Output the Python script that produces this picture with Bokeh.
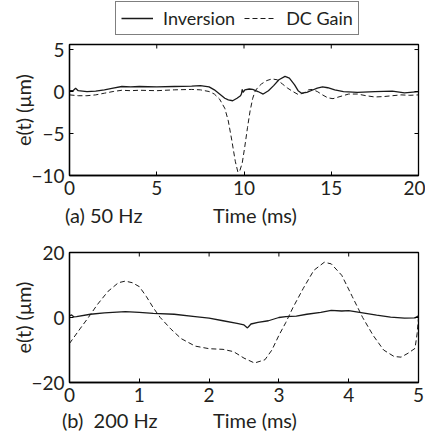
from bokeh.plotting import figure
from bokeh.layouts import column
from bokeh.models import Legend, LegendItem, FixedTicker, Div, Range1d
from bokeh.embed import file_html
from bokeh.resources import INLINE
import math

# ---------------- data ----------------
# (a) 50 Hz
t_a_inv = [0, 0.2, 0.35, 0.5, 1.0, 1.5, 2.0, 2.5, 3.0, 3.5, 4.0, 5.0, 6.0, 7.0, 7.5, 8.0,
           8.3, 8.6, 8.9, 9.1, 9.35, 9.6, 9.8, 9.85, 9.9, 9.95, 10.05, 10.3, 10.5, 10.8,
           11.1, 11.4, 11.7, 12.0, 12.35, 12.6, 12.9, 13.1, 13.3, 13.6, 13.9, 14.2, 14.5,
           14.8, 15.2, 15.7, 16.5, 17.5, 18.5, 19.2, 20.0]
inv_a = [0.1, 0.1, 0.4, 0.1, 0.0, 0.05, 0.2, 0.4, 0.6, 0.55, 0.6, 0.55, 0.6, 0.65, 0.7, 0.55,
         0.2, -0.3, -0.8, -1.0, -1.1, -0.8, -0.5, -0.3, 0.25, -0.1, 0.2, 0.3, 0.25, 0.0,
         -0.3, 0.1, 0.7, 1.4, 1.8, 1.6, 0.8, 0.1, -0.2, -0.1, 0.15, 0.4, 0.55,
         0.45, 0.2, 0.0, -0.1, 0.0, 0.05, -0.15, 0.0]
t_a_dc = [0, 0.5, 1.0, 1.5, 2.0, 2.5, 3.0, 3.5, 4.0, 5.0, 6.0, 7.0, 7.5, 8.0, 8.3, 8.6,
          8.9, 9.1, 9.3, 9.5, 9.65, 9.75, 9.9, 10.05, 10.2, 10.35, 10.5, 10.65, 10.8, 11.0,
          11.3, 11.6, 11.9, 12.2, 12.5, 12.8, 13.1, 13.4, 13.7, 13.9, 14.2, 14.5, 14.8,
          15.1, 15.5, 16.0, 16.5, 17.0, 17.5, 18.0, 18.5, 19.0, 19.5, 20.0]
dc_a = [-0.4, -0.5, -0.5, -0.4, -0.2, 0.0, 0.15, 0.1, 0.15, 0.1, 0.2, 0.25, 0.2, 0.0, -0.3, -0.9,
        -2.0, -3.5, -5.8, -8.3, -9.6, -9.5, -8.5, -6.5, -4.3, -2.3, -0.8, 0.1, 0.5, 0.9,
        1.3, 1.5, 1.4, 0.9, 0.4, 0.0, -0.35, -0.2, 0.2, 0.25, 0.0, -0.4, -0.75,
        -0.85, -0.6, -0.3, -0.3, -0.5, -0.65, -0.6, -0.5, -0.4, -0.45, -0.4]

# (b) 200 Hz
t_b_inv = [0, 0.03, 0.06, 0.1, 0.3, 0.5, 0.8, 1.0, 1.2, 1.5, 1.8, 2.0, 2.2, 2.4, 2.5, 2.55,
           2.6, 2.7, 2.85, 3.0, 3.1, 3.25, 3.4, 3.6, 3.75, 3.9, 4.0, 4.2, 4.4, 4.6, 4.8,
           4.95, 5.0]
inv_b = [0.5, 0.8, 0.2, 0.3, 1.0, 1.4, 1.8, 1.6, 1.3, 1.0, 0.3, -0.2, -1.0, -1.8, -2.3, -3.2,
         -2.0, -1.5, -1.0, 0.0, 0.3, 0.4, 1.0, 1.6, 2.2, 2.0, 2.1, 1.4, 0.7, 0.1, -0.2,
         -0.1, 0.5]
t_b_dc = [0, 0.05, 0.15, 0.27, 0.4, 0.55, 0.7, 0.8, 0.9, 1.0, 1.1, 1.2, 1.3, 1.45, 1.6, 1.8,
          2.0, 2.2, 2.35, 2.5, 2.65, 2.8, 2.9, 3.0, 3.1, 3.2, 3.35, 3.5, 3.65, 3.75, 3.9,
          4.05, 4.2, 4.35, 4.5, 4.65, 4.75, 4.85, 4.95, 4.98, 5.0]
dc_b = [-8.0, -6.5, -3.5, 0.0, 4.0, 8.0, 10.7, 11.2, 10.7, 9.5, 6.5, 3.0, 0.0, -3.5, -6.5, -8.8,
        -9.6, -9.8, -10.5, -12.5, -14.0, -13.0, -10.0, -5.5, -1.5, 3.0, 9.0, 14.5, 17.0, 16.5, 13.0,
        6.5, 0.0, -5.5, -10.0, -12.0, -12.2, -11.0, -9.5, -5.0, 0.0]

xticks_a = [0, 5, 10, 15, 20]
yticks_a = [-10, -5, 0, 5]
xticks_b = [0, 1, 2, 3, 4, 5]
yticks_b = [-20, 0, 20]

legend_labels = ["Inversion", "DC Gain"]
panel_labels = ["(a) 50 Hz", "(b)&nbsp;&nbsp;200 Hz"]
xlabel = "Time (ms)"
ylabel = "e(t) (\u03bcm)"

FONT = "Lato"
TXT = "#231f20"
LINE = "#1a1a1a"
FS = "19px"
W = 425
FL, FR = 69, 418  # frame left / right in page pixels
SOLID = dict(line_color=LINE, line_width=1.3)
DASHED = dict(line_color=LINE, line_width=1.0, line_dash="5 3")


def style_axes(p, xt, yt, xr, yr):
    p.xaxis.ticker = FixedTicker(ticks=xt)
    p.yaxis.ticker = FixedTicker(ticks=yt)
    for ax in p.axis:
        ax.major_tick_in = 4
        ax.major_tick_out = 0
        ax.minor_tick_line_color = None
        ax.axis_line_color = "black"
        ax.axis_line_width = 1.3
        ax.major_tick_line_color = "black"
        ax.major_label_text_font = FONT
        ax.major_label_text_font_size = FS
        ax.major_label_text_color = TXT
        ax.major_label_standoff = 5
    p.yaxis.axis_label = ylabel
    p.yaxis.axis_label_text_font = FONT
    p.yaxis.axis_label_text_font_size = "20px"
    p.yaxis.axis_label_text_font_style = "normal"
    p.yaxis.axis_label_text_color = TXT
    p.yaxis.axis_label_standoff = -7
    # mirrored inward ticks on top and right edges (half clipped by frame)
    p.scatter(xt, [yr[1]] * len(xt), marker="dash", size=8, angle=math.pi / 2,
              line_color="black", line_width=1)
    p.scatter([xr[1]] * len(yt), yt, marker="dash", size=8, angle=0,
              line_color="black", line_width=1)
    p.xgrid.visible = False
    p.ygrid.visible = False
    p.outline_line_color = "black"
    p.outline_line_width = 1.3


def label_row(left_text, left_x, center_x, h):
    html = (
        f'<div style="position:relative;width:{W}px;height:{h}px;'
        f'font-family:{FONT};font-size:20px;color:{TXT};line-height:{h}px;">'
        f'<span style="position:absolute;left:{left_x}px;top:0;white-space:pre;">{left_text}</span>'
        f'<span style="position:absolute;left:{center_x}px;top:0;transform:translateX(-50%);'
        f'white-space:pre;">{xlabel}</span></div>'
    )
    return Div(text=html, width=W, height=h, margin=0)


# ---------------- legend strip (keys reuse the series, drawn off-range) ----------------
pL = figure(width=W, height=36, output_backend="svg", toolbar_location=None,
            x_axis_location=None, y_axis_location=None,
            x_range=Range1d(-3, -2), y_range=Range1d(50, 51),
            min_border_left=FL, min_border_right=W - FR, min_border_top=0, min_border_bottom=0)
pL.outline_line_color = None
pL.xgrid.visible = False
pL.ygrid.visible = False
k1 = pL.line(t_a_inv, inv_a, **SOLID)
k2 = pL.line(t_a_dc, dc_a, **DASHED)
leg = Legend(items=[LegendItem(label=legend_labels[0], renderers=[k1]),
                    LegendItem(label=legend_labels[1], renderers=[k2])],
             orientation="horizontal", location=(115 - FL, 1),
             label_text_font=FONT, label_text_font_size="18px", label_text_color=TXT,
             padding=5, spacing=9, glyph_width=32, glyph_height=20, label_height=20,
             label_standoff=10,
             border_line_color="black", border_line_width=1.5,
             background_fill_alpha=1.0, margin=0)
pL.add_layout(leg, "center")

# ---------------- top panel ----------------
xr_a, yr_a = (0, 20), (-10, 5.6)
p1 = figure(width=W, height=166, output_backend="svg", toolbar_location=None,
            x_range=xr_a, y_range=yr_a,
            min_border_left=FL, min_border_right=W - FR, min_border_top=8, min_border_bottom=27)
p1.line(t_a_inv, inv_a, **SOLID)
p1.line(t_a_dc, dc_a, **DASHED)
style_axes(p1, xticks_a, yticks_a, xr_a, yr_a)

row_a = label_row(panel_labels[0], 65, 255, 26)

# ---------------- bottom panel ----------------
xr_b, yr_b = (0, 5), (-20, 20)
p2 = figure(width=W, height=180, output_backend="svg", toolbar_location=None,
            x_range=xr_b, y_range=yr_b,
            min_border_left=FL, min_border_right=W - FR, min_border_top=24, min_border_bottom=26)
p2.line(t_b_inv, inv_b, **SOLID)
p2.line(t_b_dc, dc_b, **DASHED)
style_axes(p2, xticks_b, yticks_b, xr_b, yr_b)

row_b = label_row(panel_labels[1], 62, 255, 25)

layout = column(pL, p1, row_a, p2, row_b, spacing=0)
open("out.html", "w").write(file_html(layout, INLINE))
